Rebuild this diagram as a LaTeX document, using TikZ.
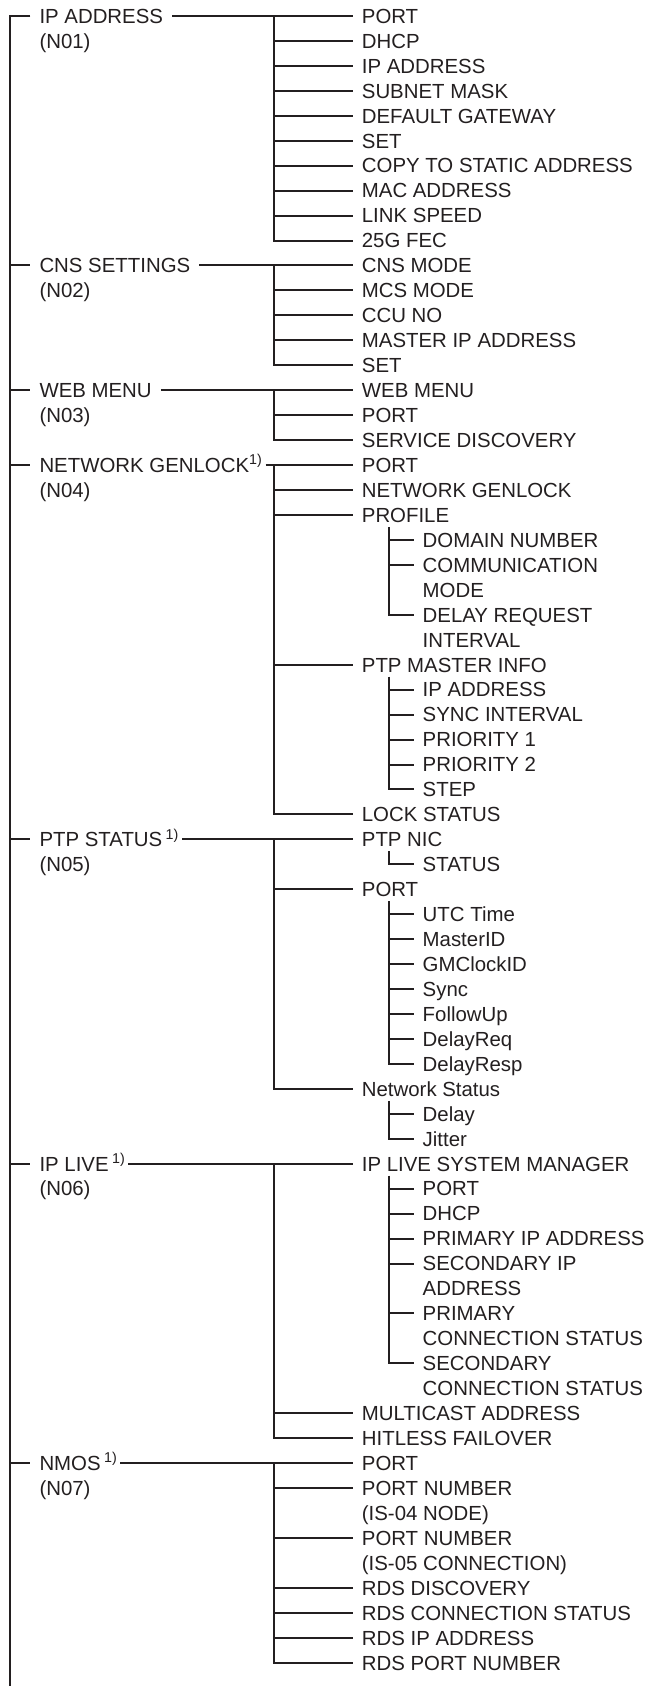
\documentclass[tikz,border=0pt]{standalone}
\usepackage{fontspec}
\setmainfont{Liberation Sans}
\usepackage{tikz}
\definecolor{ink}{HTML}{231F20}
\tikzset{
  ln/.style={draw=ink, line width=2pt},
  lbl/.style={anchor=west, inner xsep=9pt, inner ysep=0pt, text height=19pt, text depth=4.4pt, text=ink, font=\fontsize{20.4}{25}\selectfont}
}
\begin{document}
\begin{tikzpicture}[x=1pt, y=-24.95pt]

\useasboundingbox (0,-0.6413) rectangle (647,66.934);
\coordinate (bot) at (9.9,66.934);
\coordinate (c2) at (273.7,0);
\coordinate (c3) at (389.4,0);

% menu items
\node[lbl] (ip) at (30.3,0) {IP ADDRESS};
\node[lbl] (ipn) at (30.3,1) {(N01)};
\node[lbl] (cns) at (30.3,10) {CNS SETTINGS};
\node[lbl] (cnsn) at (30.3,11) {(N02)};
\node[lbl] (web) at (30.3,15) {WEB MENU};
\node[lbl] (webn) at (30.3,16) {(N03)};
\node[lbl] (gen) at (30.3,18) {NETWORK GENLOCK\textsuperscript{1)}\kern-6pt};
\node[lbl] (genn) at (30.3,19) {(N04)};
\node[lbl] (ptp) at (30.3,33) {PTP STATUS\,\textsuperscript{1)}\kern-6pt};
\node[lbl] (ptpn) at (30.3,34) {(N05)};
\node[lbl] (live) at (30.3,46) {IP LIVE\,\textsuperscript{1)}\kern-6pt};
\node[lbl] (liven) at (30.3,47) {(N06)};
\node[lbl] (nmos) at (30.3,58) {NMOS\,\textsuperscript{1)}\kern-6pt};
\node[lbl] (nmosn) at (30.3,59) {(N07)};

% IP ADDRESS
\node[lbl] (a0) at (352.7,0) {PORT};
\node[lbl] (a1) at (352.7,1) {DHCP};
\node[lbl] (a2) at (352.7,2) {IP ADDRESS};
\node[lbl] (a3) at (352.7,3) {SUBNET MASK};
\node[lbl] (a4) at (352.7,4) {DEFAULT GATEWAY};
\node[lbl] (a5) at (352.7,5) {SET};
\node[lbl] (a6) at (352.7,6) {COPY TO STATIC ADDRESS};
\node[lbl] (a7) at (352.7,7) {MAC ADDRESS};
\node[lbl] (a8) at (352.7,8) {LINK SPEED};
\node[lbl] (a9) at (352.7,9) {25G FEC};

% CNS SETTINGS
\node[lbl] (b0) at (352.7,10) {CNS MODE};
\node[lbl] (b1) at (352.7,11) {MCS MODE};
\node[lbl] (b2) at (352.7,12) {CCU NO};
\node[lbl] (b3) at (352.7,13) {MASTER IP ADDRESS};
\node[lbl] (b4) at (352.7,14) {SET};

% WEB MENU
\node[lbl] (w0) at (352.7,15) {WEB MENU};
\node[lbl] (w1) at (352.7,16) {PORT};
\node[lbl] (w2) at (352.7,17) {SERVICE DISCOVERY};

% NETWORK GENLOCK
\node[lbl] (g0) at (352.7,18) {PORT};
\node[lbl] (g1) at (352.7,19) {NETWORK GENLOCK};
\node[lbl] (g2) at (352.7,20) {PROFILE};
\node[lbl] (p0) at (413.5,21) {DOMAIN NUMBER};
\node[lbl] (p1) at (413.5,22) {COMMUNICATION};
\node[lbl] (p1b) at (413.5,23) {MODE};
\node[lbl] (p2) at (413.5,24) {DELAY REQUEST};
\node[lbl] (p2b) at (413.5,25) {INTERVAL};
\node[lbl] (g3) at (352.7,26) {PTP MASTER INFO};
\node[lbl] (m0) at (413.5,27) {IP ADDRESS};
\node[lbl] (m1) at (413.5,28) {SYNC INTERVAL};
\node[lbl] (m2) at (413.5,29) {PRIORITY 1};
\node[lbl] (m3) at (413.5,30) {PRIORITY 2};
\node[lbl] (m4) at (413.5,31) {STEP};
\node[lbl] (g4) at (352.7,32) {LOCK STATUS};

% PTP STATUS
\node[lbl] (s0) at (352.7,33) {PTP NIC};
\node[lbl] (n0) at (413.5,34) {STATUS};
\node[lbl] (s1) at (352.7,35) {PORT};
\node[lbl] (t0) at (413.5,36) {UTC Time};
\node[lbl] (t1) at (413.5,37) {MasterID};
\node[lbl] (t2) at (413.5,38) {GMClockID};
\node[lbl] (t3) at (413.5,39) {Sync};
\node[lbl] (t4) at (413.5,40) {FollowUp};
\node[lbl] (t5) at (413.5,41) {DelayReq};
\node[lbl] (t6) at (413.5,42) {DelayResp};
\node[lbl] (s2) at (352.7,43) {Network Status};
\node[lbl] (d0) at (413.5,44) {Delay};
\node[lbl] (d1) at (413.5,45) {Jitter};

% IP LIVE
\node[lbl] (l0) at (352.7,46) {IP LIVE SYSTEM MANAGER};
\node[lbl] (v0) at (413.5,47) {PORT};
\node[lbl] (v1) at (413.5,48) {DHCP};
\node[lbl] (v2) at (413.5,49) {PRIMARY IP ADDRESS};
\node[lbl] (v3) at (413.5,50) {SECONDARY IP};
\node[lbl] (v3b) at (413.5,51) {ADDRESS};
\node[lbl] (v4) at (413.5,52) {PRIMARY};
\node[lbl] (v4b) at (413.5,53) {CONNECTION STATUS};
\node[lbl] (v5) at (413.5,54) {SECONDARY};
\node[lbl] (v5b) at (413.5,55) {CONNECTION STATUS};
\node[lbl] (l1) at (352.7,56) {MULTICAST ADDRESS};
\node[lbl] (l2) at (352.7,57) {HITLESS FAILOVER};

% NMOS
\node[lbl] (e0) at (352.7,58) {PORT};
\node[lbl] (e1) at (352.7,59) {PORT NUMBER};
\node[lbl] (e1b) at (352.7,60) {(IS-04 NODE)};
\node[lbl] (e2) at (352.7,61) {PORT NUMBER};
\node[lbl] (e2b) at (352.7,62) {(IS-05 CONNECTION)};
\node[lbl] (e3) at (352.7,63) {RDS DISCOVERY};
\node[lbl] (e4) at (352.7,64) {RDS CONNECTION STATUS};
\node[lbl] (e5) at (352.7,65) {RDS IP ADDRESS};
\node[lbl] (e6) at (352.7,66) {RDS PORT NUMBER};

% trunk
\draw[ln] (ip.west) -| (bot);
\foreach \n in {cns,web,gen,ptp,live,nmos}
  \draw[ln] (\n.west -| bot) -- (\n.west);

% second level
\draw[ln] (ip.east) -- (a0.west);
\draw[ln] (cns.east) -- (b0.west);
\draw[ln] (web.east) -- (w0.west);
\draw[ln] (gen.east) -- (g0.west);
\draw[ln] (ptp.east) -- (s0.west);
\draw[ln] (live.east) -- (l0.west);
\draw[ln] (nmos.east) -- (e0.west);
\draw[ln] (a0.west -| c2) |- (a9.west);
\draw[ln] (b0.west -| c2) |- (b4.west);
\draw[ln] (w0.west -| c2) |- (w2.west);
\draw[ln] (g0.west -| c2) |- (g4.west);
\draw[ln] (s0.west -| c2) |- (s2.west);
\draw[ln] (l0.west -| c2) |- (l2.west);
\draw[ln] (e0.west -| c2) |- (e6.west);
\foreach \n in {a1,a2,a3,a4,a5,a6,a7,a8,b1,b2,b3,w1,g1,g2,g3,s1,l1,e1,e2,e3,e4,e5}
  \draw[ln] (\n.west -| c2) -- (\n.west);

% third level
\draw[ln] (g2.south -| c3) |- (p2.west);
\draw[ln] (g3.south -| c3) |- (m4.west);
\draw[ln] (s0.south -| c3) |- (n0.west);
\draw[ln] (s1.south -| c3) |- (t6.west);
\draw[ln] (s2.south -| c3) |- (d1.west);
\draw[ln] (l0.south -| c3) |- (v5.west);
\foreach \n in {p0,p1,m0,m1,m2,m3,t0,t1,t2,t3,t4,t5,d0,v0,v1,v2,v3,v4}
  \draw[ln] (\n.west -| c3) -- (\n.west);

\end{tikzpicture}
\end{document}
